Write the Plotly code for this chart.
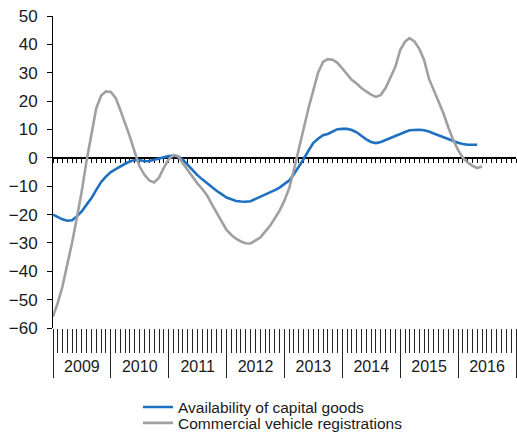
import pandas as pd
import plotly.graph_objects as go

capital_goods = [
    -20, -21, -21.7, -22.2, -22, -20.6, -18.9, -16.5, -14.2, -11.3, -8.5, -6.6,
    -5, -4, -3, -2.1, -1.3, -0.8, -0.8, -1.2, -1.1, -0.7, -0.2, 0.3,
    0.6, 0.7, 0.5, -0.7, -2.5, -4.4, -6.1, -7.6, -9, -10.4, -11.7, -12.8,
    -14, -14.6, -15.2, -15.4, -15.5, -15.3, -14.6, -13.7, -12.9, -12.2, -11.4, -10.5,
    -9.2, -7.9, -5.8, -3.3, -0.5, 2.5, 5.2, 6.7, 8, 8.4, 9.2, 10.1,
    10.2, 10.2, 9.8, 9, 7.8, 6.5, 5.6, 5.2, 5.6, 6.3, 7.2, 7.8,
    8.6, 9.1, 9.7, 9.9, 9.9, 9.7, 9.3, 8.6, 7.9, 7.3, 6.5, 5.8,
    5.3, 4.9, 4.6, 4.6, 4.6,
]

vehicle_registrations = [
    -56, -51, -45.5, -38, -30, -21, -12, -1, 9, 17.5, 22, 23.4,
    23.2, 21, 17, 12.5, 7.5, 2, -3, -6, -8, -8.7, -7, -3.5,
    -0.5, 1, 0.6, -2, -4.3, -6.8, -9, -11, -13.3, -16.4, -19.5, -22.5,
    -25.4, -27.2, -28.5, -29.5, -30.1, -30.2, -29.3, -28.1, -26, -24, -21.3, -18.6,
    -15, -10.5, -4.3, 3, 10.6, 17.4, 23.6, 30, 33.8, 34.8, 34.6, 33.5,
    31.5, 29.5, 27.5, 26.2, 24.6, 23.4, 22.3, 21.5, 22.2, 24.6, 28.5, 32,
    38, 41, 42.2, 41, 38.5, 34.5, 28, 24, 19.5, 15.7, 10.7, 6.4,
    2.8, 0, -1.6, -2.8, -3.6, -3.1,
]

series_names = ["Availability of capital goods", "Commercial vehicle registrations"]
start_month = "2009-01-01"
x_range = ["2009-01-01", "2017-01-01"]
y_range = [-60, 50]

dates_cap = pd.date_range(start_month, periods=len(capital_goods), freq="MS")
dates_veh = pd.date_range(start_month, periods=len(vehicle_registrations), freq="MS")

BLUE = "#1f70c1"
GRAY = "#a0a0a4"
FONT = "Liberation Sans, Arial, sans-serif"
TICKC = "#262626"

fig = go.Figure()
# empty helper traces so the overlay axes (zero line, year separators) get drawn
fig.add_trace(go.Scatter(x=[], y=[], xaxis="x2", yaxis="y", showlegend=False, hoverinfo="skip"))
fig.add_trace(go.Scatter(x=[], y=[], xaxis="x3", yaxis="y", showlegend=False, hoverinfo="skip"))
fig.add_trace(go.Scatter(x=dates_cap, y=capital_goods, mode="lines", name=series_names[0],
                         line=dict(color=BLUE, width=2.6), legend="legend"))
fig.add_trace(go.Scatter(x=dates_veh, y=vehicle_registrations, mode="lines", name=series_names[1],
                         line=dict(color=GRAY, width=2.6), legend="legend2"))

zero_pos = (0 - y_range[0]) / (y_range[1] - y_range[0])

fig.update_layout(
    width=517, height=436,
    margin=dict(l=53, r=1, t=16, b=108, autoexpand=False),
    paper_bgcolor="white", plot_bgcolor="white",
    font=dict(family=FONT, color="#1a1a1a"),
    xaxis=dict(
        type="date", range=x_range, showgrid=False, zeroline=False, showline=False,
        automargin=False,
        tickmode="linear", tick0=start_month, dtick="M12", tickformat="%Y",
        ticklabelmode="period", ticks="outside", ticklen=24, tickcolor=TICKC, tickwidth=1,
        tickfont=dict(size=16, color="#1a1a1a"),
        minor=dict(ticks="outside", ticklen=24, tick0=start_month, dtick="M1",
                   tickcolor=TICKC, tickwidth=1, showgrid=False),
    ),
    xaxis3=dict(
        type="date", range=x_range, overlaying="x", anchor="y", side="bottom",
        automargin=False,
        showgrid=False, zeroline=False, showline=False, showticklabels=False,
        tickmode="linear", tick0=start_month, dtick="M12",
        ticks="outside", ticklen=49, tickcolor=TICKC, tickwidth=1.3,
    ),
    xaxis2=dict(
        type="date", range=x_range, overlaying="x", anchor="free", position=zero_pos,
        automargin=False,
        side="bottom", showgrid=False, zeroline=False, showticklabels=False,
        showline=True, linecolor="black", linewidth=1.5, layer="below traces",
        tickmode="linear", tick0=start_month, dtick="M1",
        ticks="outside", ticklen=4, tickcolor="black", tickwidth=1,
    ),
    yaxis=dict(
        range=y_range, tickmode="linear", tick0=-60, dtick=10, showgrid=False, zeroline=False,
        automargin=False, ticklabelstandoff=6,
        showline=True, linecolor="black", linewidth=1, ticks="outside", ticklen=5,
        tickcolor="black", tickfont=dict(size=17, color="#1a1a1a"),
    ),
    legend=dict(x=0.1836, y=-0.2, xanchor="left", yanchor="top", bgcolor="rgba(0,0,0,0)",
                font=dict(size=15.5, color="#1a1a1a")),
    legend2=dict(x=0.1836, y=-0.251, xanchor="left", yanchor="top", bgcolor="rgba(0,0,0,0)",
                 font=dict(size=15.5, color="#1a1a1a")),
    showlegend=True,
)

fig.write_html("out.html", config={"displayModeBar": False},
               post_script="document.body.style.margin='0px';")
